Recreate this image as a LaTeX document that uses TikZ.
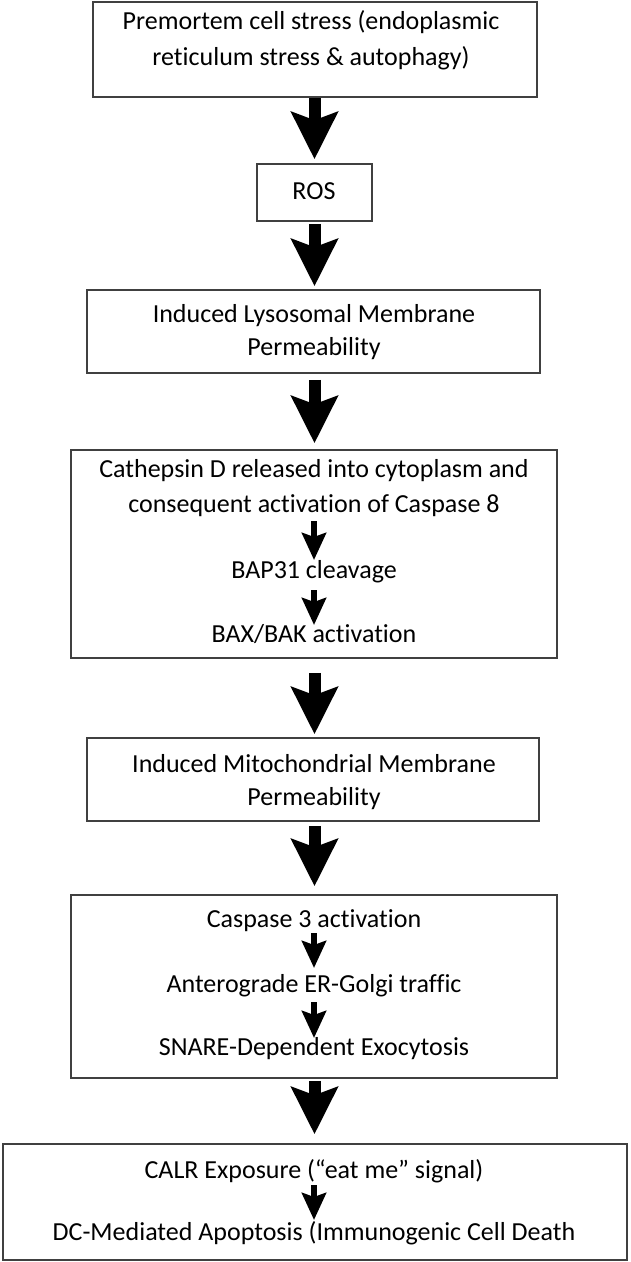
\documentclass[tikz,border=0pt]{standalone}
\usepackage{fontspec}
\setmainfont{Carlito}[Ligatures={NoCommon,NoContextual}]
\usetikzlibrary{arrows.meta}
\begin{document}
\begin{tikzpicture}[x=1pt,y=-1pt,
  box/.style={draw=black!75, line width=1.6pt, inner sep=0pt},
  txt/.style={anchor=base, inner sep=0pt, font=\fontsize{26}{30}\selectfont, text=black},
  bigarr/.style={draw=black, line width=12pt, -{Stealth[width=46pt,length=47pt,inset=8pt]}},
  smallarr/.style={draw=black, line width=6pt, -{Stealth[width=24pt,length=27pt,inset=4pt]}}]
\useasboundingbox[fill=white] (0,0) rectangle (630,1262);
% boxes
\node[box, minimum width=444pt, minimum height=95pt] (b1) at (315,49.5) {};
\node[box, minimum width=115pt, minimum height=57pt] (b2) at (314.5,192.5) {};
\node[box, minimum width=453pt, minimum height=83pt] (b3) at (313.5,331.5) {};
\node[box, minimum width=486pt, minimum height=208pt] (b4) at (314,554) {};
\node[box, minimum width=452pt, minimum height=83pt] (b5) at (313,779.5) {};
\node[box, minimum width=486pt, minimum height=183pt] (b6) at (314,986.5) {};
\node[box, minimum width=624pt, minimum height=116pt] (b7) at (315,1202) {};
% texts
\node[txt] (t1a) at (311,29) {Premortem cell stress (endoplasmic};
\node[txt] (t1b) at (311,65) {reticulum stress \& autophagy)};
\node[txt] (t2) at (314,199) {ROS};
\node[txt] (t3a) at (314,322) {Induced Lysosomal Membrane};
\node[txt] (t3b) at (314,355) {Permeability};
\node[txt] (t4a) at (314,477) {Cathepsin D released into cytoplasm and};
\node[txt] (t4b) at (314,512) {consequent activation of Caspase 8};
\node[txt] (t4c) at (314,578) {BAP31 cleavage};
\node[txt] (t4d) at (314,642) {BAX/BAK activation};
\node[txt] (t5a) at (314,772) {Induced Mitochondrial Membrane};
\node[txt] (t5b) at (314,805) {Permeability};
\node[txt] (t6a) at (314,927) {Caspase 3 activation};
\node[txt] (t6b) at (314,992) {Anterograde ER-Golgi traffic};
\node[txt] (t6c) at (314,1055) {SNARE-Dependent Exocytosis};
\node[txt] (t7a) at (314,1178) {CALR Exposure (“eat me” signal)};
\node[txt] (t7b) at (314,1240) {DC-Mediated Apoptosis (Immunogenic Cell Death};
% big arrows
\draw[bigarr, shorten >=4pt] (b2.north |- b1.south) -- (b2.north);
\draw[bigarr, shorten <=2pt, shorten >=3pt] (b2.south) -- (b2.south |- b3.north);
\draw[bigarr, shorten <=6pt, shorten >=6pt] (b2.south |- b3.south) -- (b2.south |- b4.north);
\draw[bigarr, shorten <=14pt, shorten >=3pt] (b2.south |- b4.south) -- (b2.south |- b5.north);
\draw[bigarr, shorten <=4pt, shorten >=8pt] (b2.south |- b5.south) -- (b2.south |- b6.north);
\draw[bigarr, shorten <=2pt, shorten >=9pt] (b2.south |- b6.south) -- (b2.south |- b7.north);
% small arrows
\draw[smallarr] ([xshift=0pt,yshift=-9pt]t4b.base) -- ([xshift=0pt,yshift=18pt]t4c.base);
\draw[smallarr] ([xshift=0pt,yshift=-12pt]t4c.base) -- ([xshift=0pt,yshift=17pt]t4d.base);
\draw[smallarr] ([xshift=0pt,yshift=-6pt]t6a.base) -- ([xshift=0pt,yshift=24pt]t6b.base);
\draw[smallarr] ([xshift=0pt,yshift=-10pt]t6b.base) -- ([xshift=0pt,yshift=17pt]t6c.base);
\draw[smallarr] ([xshift=0pt,yshift=-7pt]t7a.base) -- ([xshift=0pt,yshift=20pt]t7b.base);
\end{tikzpicture}
\end{document}
